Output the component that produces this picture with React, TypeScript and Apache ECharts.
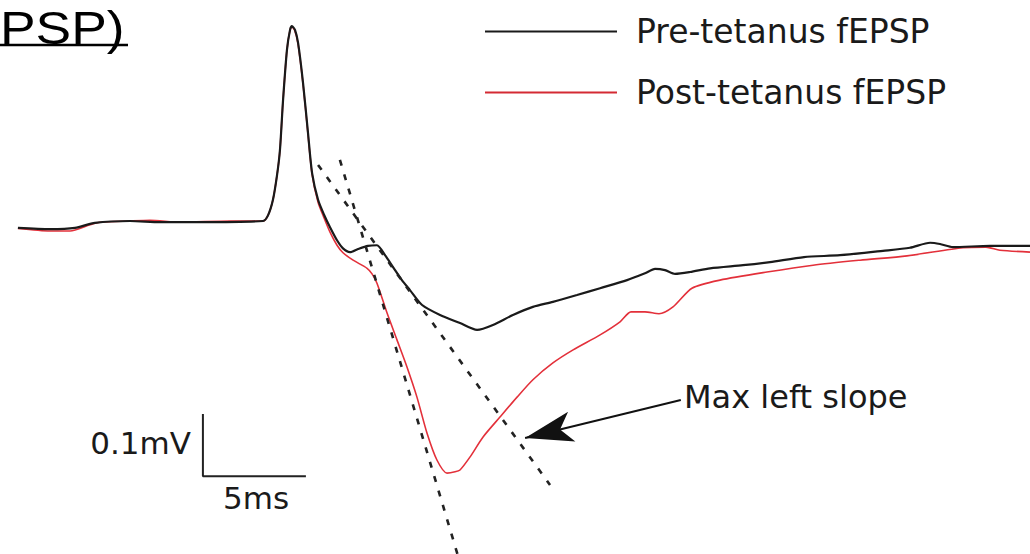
import React, { useEffect, useRef } from "react";
import * as echarts from "echarts";

// time (ms) values
const preT = [0.87, 2.43, 3.64, 4.61, 6.31, 7.77, 9.71, 12.77, 13.01, 13.25, 13.45, 13.59, 13.74, 13.93, 14.08, 14.17, 14.32, 14.47, 14.71, 14.95, 15.15, 15.44, 15.73, 16.02, 16.36, 16.65, 16.99, 17.38, 17.86, 18.3, 18.69, 19.08, 19.51, 19.9, 20.49, 21.36, 22.33, 23.16, 23.93, 24.9, 25.87, 26.84, 28.01, 29.13, 30.44, 31.31, 31.8, 32.28, 32.77, 33.5, 34.47, 36.07, 37.38, 39.03, 40.78, 42.86, 44.17, 45.15, 45.63, 46.26, 48.06, 50.0];
// pre-tetanus fEPSP (mV)
const preV = [0.004, 0.002, 0.004, 0.012, 0.015, 0.013, 0.013, 0.015, 0.024, 0.049, 0.089, 0.129, 0.209, 0.29, 0.322, 0.328, 0.322, 0.301, 0.237, 0.157, 0.092, 0.049, 0.025, 0.005, -0.016, -0.029, -0.035, -0.03, -0.025, -0.024, -0.04, -0.059, -0.08, -0.096, -0.12, -0.136, -0.149, -0.16, -0.152, -0.136, -0.123, -0.115, -0.104, -0.093, -0.08, -0.069, -0.062, -0.064, -0.07, -0.067, -0.061, -0.056, -0.051, -0.043, -0.04, -0.033, -0.028, -0.02, -0.022, -0.027, -0.025, -0.025];

const postT = [0.87, 2.43, 3.4, 4.37, 4.85, 6.31, 7.28, 8.74, 11.17, 12.77, 13.01, 13.25, 13.45, 13.59, 13.74, 13.93, 14.08, 14.17, 14.32, 14.47, 14.71, 14.95, 15.15, 15.44, 15.73, 16.02, 16.36, 16.65, 17.14, 17.82, 18.06, 18.3, 18.79, 19.27, 19.76, 20.24, 20.73, 21.21, 21.7, 22.09, 22.33, 22.82, 23.45, 24.27, 25.1, 25.87, 26.84, 27.82, 29.13, 30.1, 30.63, 31.31, 31.99, 32.67, 33.59, 34.95, 37.23, 39.47, 41.75, 44.03, 46.75, 47.86, 48.54, 50.0];
// post-tetanus fEPSP (mV)
const postV = [0.003, -0.001, -0.001, 0.009, 0.013, 0.015, 0.016, 0.013, 0.015, 0.015, 0.024, 0.049, 0.089, 0.129, 0.209, 0.29, 0.322, 0.327, 0.32, 0.299, 0.235, 0.155, 0.09, 0.045, 0.02, -0.003, -0.024, -0.036, -0.048, -0.061, -0.07, -0.085, -0.133, -0.176, -0.22, -0.268, -0.326, -0.369, -0.39, -0.388, -0.385, -0.364, -0.332, -0.3, -0.268, -0.24, -0.213, -0.192, -0.168, -0.147, -0.131, -0.131, -0.134, -0.123, -0.093, -0.08, -0.067, -0.056, -0.048, -0.041, -0.028, -0.027, -0.032, -0.035];

// slope fit lines (ms, mV)
const slopePostT = [16.5, 22.25];
const slopePostV = [0.113, -0.525];
const slopePreT = [15.44, 26.7];
const slopePreV = [0.105, -0.409];

// scale bar: 5 ms and 0.1 mV
const scaleT = [9.85, 9.85, 14.85];
const scaleV = [-0.295, -0.395, -0.395];

// arrow annotation (from label to slope line)
const arrowFrom = [33.05, -0.2726];
const arrowTo = [25.49, -0.3337];

const seriesNames = ["Pre-tetanus fEPSP", "Post-tetanus fEPSP"];
const labels = { vBar: "0.1mV", hBar: "5ms", arrow: "Max left slope", title: "PSP)" };

const zip = (a: number[], b: number[]) => a.map((v, i) => [v, b[i]]);

export default function App() {
  const ref = useRef<HTMLDivElement>(null);
  useEffect(() => {
    if (!ref.current) return;
    const chart = echarts.init(ref.current, undefined, { renderer: "svg" });
    const textFont = '"DejaVu Sans", sans-serif';
    chart.setOption({
      animation: false,
      backgroundColor: "#ffffff",
      grid: { left: 0, right: 0, top: 0, bottom: 0, containLabel: false },
      xAxis: { type: "value", min: 0, max: 50, show: false },
      yAxis: { type: "value", min: -0.52, max: 0.37, show: false },
      legend: {
        data: seriesNames,
        orient: "vertical",
        left: 480,
        top: 9,
        icon: "rect",
        itemWidth: 132,
        itemHeight: 2,
        itemGap: 26,
        selectedMode: false,
        textStyle: {
          fontFamily: textFont,
          fontSize: 33,
          lineHeight: 35,
          color: "#1a1a1a",
          padding: [0, 0, 0, 14],
        },
      },
      graphic: [
        {
          type: "text",
          x: 0,
          y: 5,
          scaleX: 1.16,
          style: {
            text: labels.title,
            font: '46px "Liberation Sans", Arial, sans-serif',
            fill: "#000",
            textVerticalAlign: "top",
          },
        },
        {
          type: "line",
          shape: { x1: 0, y1: 45, x2: 128, y2: 45 },
          style: { stroke: "#000", lineWidth: 2.5 },
        },
        {
          type: "text",
          x: 191,
          y: 443,
          style: {
            text: labels.vBar,
            font: `31px ${textFont}`,
            fill: "#1a1a1a",
            textAlign: "right",
            textVerticalAlign: "middle",
          },
        },
        {
          type: "text",
          x: 256,
          y: 498,
          style: {
            text: labels.hBar,
            font: `31px ${textFont}`,
            fill: "#1a1a1a",
            textAlign: "center",
            textVerticalAlign: "middle",
          },
        },
        {
          type: "text",
          x: 684,
          y: 397,
          style: {
            text: labels.arrow,
            font: `32px ${textFont}`,
            fill: "#1a1a1a",
            textVerticalAlign: "middle",
          },
        },
      ],
      series: [
        {
          name: seriesNames[0],
          type: "line",
          data: zip(preT, preV),
          symbol: "none",
          smooth: 0.25,
          z: 4,
          lineStyle: { color: "#1a1a1a", width: 2.2 },
          itemStyle: { color: "#1a1a1a" },
        },
        {
          name: seriesNames[1],
          type: "line",
          data: zip(postT, postV),
          symbol: "none",
          smooth: 0.25,
          z: 3,
          lineStyle: { color: "#e3303a", width: 1.6 },
          itemStyle: { color: "#d42a33" },
        },
        {
          name: "slope-post",
          type: "line",
          data: zip(slopePostT, slopePostV),
          symbol: "none",
          z: 5,
          lineStyle: { color: "#222", width: 2.6, type: [6, 9] },
        },
        {
          name: "slope-pre",
          type: "line",
          data: zip(slopePreT, slopePreV),
          symbol: "none",
          z: 5,
          lineStyle: { color: "#222", width: 2.6, type: [6, 9] },
          markLine: {
            silent: true,
            symbol: ["none", "arrow"],
            symbolSize: [23, 48],
            label: { show: false },
            lineStyle: { color: "#111", width: 2, type: "solid" },
            data: [[{ coord: arrowFrom }, { coord: arrowTo }]],
          },
        },
        {
          name: "scale-bar",
          type: "line",
          data: zip(scaleT, scaleV),
          symbol: "none",
          z: 5,
          lineStyle: { color: "#222", width: 2 },
        },
      ],
    });
    return () => chart.dispose();
  }, []);
  return (
    <div
      ref={ref}
      style={{ position: "fixed", left: 0, top: 0, width: 1030, height: 554 }}
    />
  );
}
